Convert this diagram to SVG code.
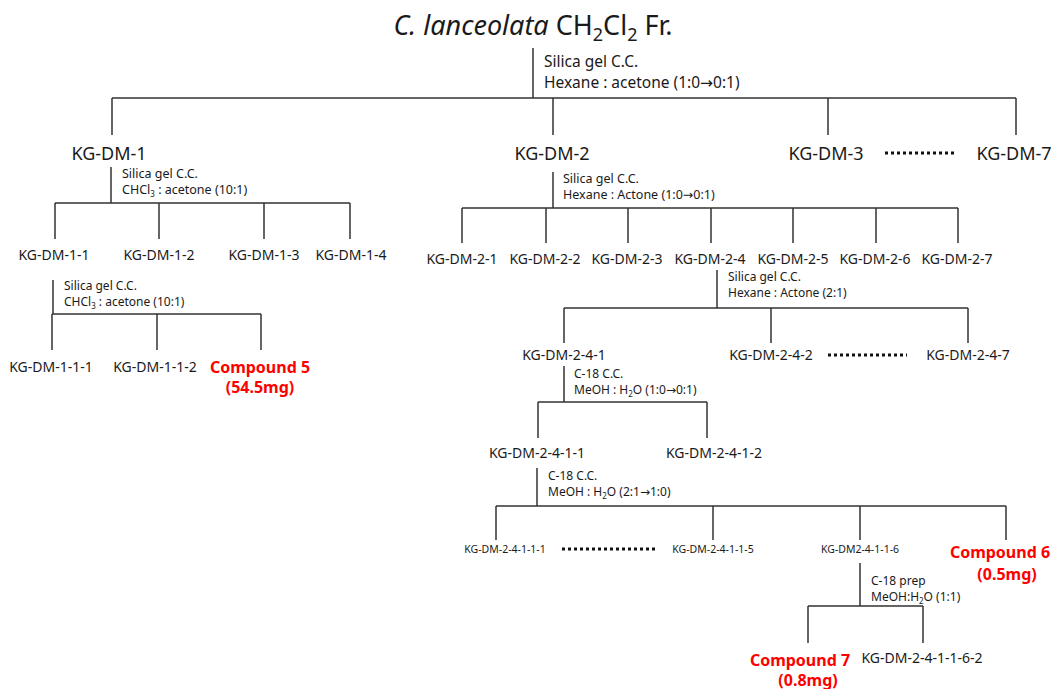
<svg xmlns="http://www.w3.org/2000/svg" width="1060" height="689" viewBox="0 0 1060 689">
<style>
text{font-family:"Noto Sans","Open Sans","Liberation Sans",sans-serif;fill:#1a1a1a}
.t{font-size:27px}
.l1{font-size:18px;text-anchor:middle}
.l2{font-size:14px;text-anchor:middle}
.l3{font-size:10.5px;text-anchor:middle}
.a1{font-size:15.5px}
.a2{font-size:12.5px}
.a3{font-size:12px}
.ar{font-family:"DejaVu Sans",sans-serif;font-size:1em}
.cp{font-size:16px;font-weight:bold;fill:#ff0000;text-anchor:middle}
.ln{stroke:#333;stroke-width:1.5;fill:none}
.dot{stroke:#111;stroke-width:3;stroke-dasharray:3 3;fill:none}
</style>
<rect width="1060" height="689" fill="#fff"/>
<g id="title"><text class="t" x="533" y="35" text-anchor="middle"><tspan font-style="italic">C. lanceolata</tspan> CH<tspan font-size="18" dy="6">2</tspan><tspan dy="-6">Cl</tspan><tspan font-size="18" dy="6">2</tspan><tspan dy="-6"> Fr.</tspan></text></g>
<g id="connectors">
<path class="ln" d="M533 48V98M112 98H1016M112 98V135M553 98V135M828 98V135M1016 98V135"/>
<path class="ln" d="M111 167V203M55 203H350M55 203V239M159 203V239M264 203V239M350 203V239"/>
<path class="ln" d="M53 280V314M52 314H261M52 314V350M157 314V350M261 314V350"/>
<path class="ln" d="M553 172V208M462 208H958M462 208V243M546 208V243M628 208V243M711 208V243M793 208V243M876 208V243M958 208V243"/>
<path class="ln" d="M717 270V308M564 308H968M564 308V343M771 308V343M968 308V343"/>
<path class="ln" d="M564 366V402M538 402H707M538 402V438M707 402V438"/>
<path class="ln" d="M537 468V506M496 506H1006M496 506V540M713 506V540M860 506V540M1006 506V540"/>
<path class="ln" d="M860 563V606M808 606H923M808 606V643M923 606V643"/>
<path class="dot" d="M885 153H955M828 355H907M562 549H656"/>
</g>
<g id="ann">
<text class="a1" x="544" y="67">Silica gel C.C.</text>
<text class="a1" x="544" y="88">Hexane : acetone (1:0<tspan class="ar">→</tspan>0:1)</text>
<text class="a2" x="122" y="178">Silica gel C.C.</text>
<text class="a2" x="122" y="194">CHCl<tspan font-size="8" dy="3">3</tspan><tspan dy="-3"> : acetone  (10:1)</tspan></text>
<text class="a3" x="64" y="290">Silica gel C.C.</text>
<text class="a3" x="64" y="306">CHCl<tspan font-size="8" dy="3">3</tspan><tspan dy="-3"> : acetone (10:1)</tspan></text>
<text class="a2" x="563" y="183">Silica gel C.C.</text>
<text class="a2" x="563" y="199">Hexane : Actone (1:0<tspan class="ar">→</tspan>0:1)</text>
<text class="a3" x="728" y="281">Silica gel C.C.</text>
<text class="a3" x="728" y="297">Hexane : Actone (2:1)</text>
<text class="a3" x="574" y="378">C-18 C.C.</text>
<text class="a3" x="574" y="394">MeOH : H<tspan font-size="8" dy="3">2</tspan><tspan dy="-3">O (1:0</tspan><tspan class="ar">→</tspan>0:1)</text>
<text class="a3" x="548" y="480">C-18 C.C.</text>
<text class="a3" x="548" y="496">MeOH : H<tspan font-size="8" dy="3">2</tspan><tspan dy="-3">O (2:1</tspan><tspan class="ar">→</tspan>1:0)</text>
<text class="a3" x="871" y="585">C-18 prep</text>
<text class="a3" x="871" y="601">MeOH:H<tspan font-size="8" dy="3">2</tspan><tspan dy="-3">O (1:1)</tspan></text>
</g>
<g id="n1"><text class="l1" x="109" y="160">KG-DM-1</text></g>
<g id="n2"><text class="l1" x="552" y="160">KG-DM-2</text></g>
<g id="n3"><text class="l1" x="826" y="160">KG-DM-3</text></g>
<g id="n7"><text class="l1" x="1014" y="160">KG-DM-7</text></g>
<g id="n1-1"><text class="l2" x="54" y="260">KG-DM-1-1</text></g>
<g id="n1-2"><text class="l2" x="159" y="260">KG-DM-1-2</text></g>
<g id="n1-3"><text class="l2" x="264" y="260">KG-DM-1-3</text></g>
<g id="n1-4"><text class="l2" x="351" y="260">KG-DM-1-4</text></g>
<g id="n1-1-1"><text class="l2" x="51" y="372">KG-DM-1-1-1</text></g>
<g id="n1-1-2"><text class="l2" x="155" y="372">KG-DM-1-1-2</text></g>
<g id="c5"><text class="cp" x="260" y="373">Compound 5</text><text class="cp" x="260" y="393">(54.5mg)</text></g>
<g id="n2-1"><text class="l2" x="462" y="264">KG-DM-2-1</text></g>
<g id="n2-2"><text class="l2" x="545" y="264">KG-DM-2-2</text></g>
<g id="n2-3"><text class="l2" x="627" y="264">KG-DM-2-3</text></g>
<g id="n2-4"><text class="l2" x="710" y="264">KG-DM-2-4</text></g>
<g id="n2-5"><text class="l2" x="793" y="264">KG-DM-2-5</text></g>
<g id="n2-6"><text class="l2" x="875" y="264">KG-DM-2-6</text></g>
<g id="n2-7"><text class="l2" x="957" y="264">KG-DM-2-7</text></g>
<g id="n2-4-1"><text class="l2" x="564" y="360">KG-DM-2-4-1</text></g>
<g id="n2-4-2"><text class="l2" x="771" y="360">KG-DM-2-4-2</text></g>
<g id="n2-4-7"><text class="l2" x="968" y="360">KG-DM-2-4-7</text></g>
<g id="n2-4-1-1"><text class="l2" x="537" y="458">KG-DM-2-4-1-1</text></g>
<g id="n2-4-1-2"><text class="l2" x="714" y="458">KG-DM-2-4-1-2</text></g>
<g id="n2-4-1-1-1"><text class="l3" x="505" y="553">KG-DM-2-4-1-1-1</text></g>
<g id="n2-4-1-1-5"><text class="l3" x="713" y="553">KG-DM-2-4-1-1-5</text></g>
<g id="n2-4-1-1-6"><text class="l3" x="860" y="553">KG-DM2-4-1-1-6</text></g>
<g id="c6"><text class="cp" x="1000" y="558">Compound 6</text><text class="cp" x="1007" y="580">(0.5mg)</text></g>
<g id="c7"><text class="cp" x="800" y="666">Compound 7</text><text class="cp" x="808" y="686">(0.8mg)</text></g>
<g id="n2-4-1-1-6-2"><text class="l2" x="922" y="663" font-size="13">KG-DM-2-4-1-1-6-2</text></g>
</svg>
